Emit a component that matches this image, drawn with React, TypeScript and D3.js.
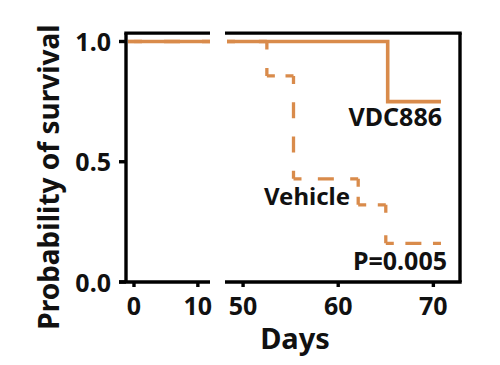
import * as d3 from "d3";

// Kaplan-Meier steps
const vehicleDays = [0, 52.5, 55.3, 62.1, 65.0, 70.8];
const vehicleSurv = [1, 0.857, 0.429, 0.321, 0.161, 0.161];
const vdcDays = [0, 65.2, 70.8];
const vdcSurv = [1, 0.75, 0.75];

const leftTicks = [0, 10];
const rightTicks = [50, 60, 70];
const yTicks = [0, 0.5, 1.0];

const W = 500;
const H = 365;
const ORANGE = "#d98b4b";
const FONT = "'Noto Sans', 'Open Sans', sans-serif";
const LINE_W = 3.6;

const xL = d3.scaleLinear().domain([-1.25, 11.9]).range([126, 210]);
const xR = d3.scaleLinear().domain([48.1, 72.8]).range([225, 460]);
const y = d3.scaleLinear().domain([0, 1]).range([282, 41.5]);
const yTop = y(1.035);

type Pt = [number, number];

// step points of a curve restricted to one axis segment, in pixels
function stepPoints(days: number[], surv: number[], x: d3.ScaleLinear<number, number>): Pt[] {
  const [d0, d1] = x.domain();
  let v = surv[0];
  days.forEach((d, i) => { if (d <= d0) v = surv[i]; });
  const pts: Pt[] = [[x(d0) + 2, y(v)]];
  days.forEach((d, i) => {
    if (d > d0 && d <= d1) {
      pts.push([x(d), y(v)]);
      v = surv[i];
      pts.push([x(d), y(v)]);
    }
  });
  if (days[days.length - 1] > d1) {
    pts.push([x(d1), y(v)]);
  }
  // drop zero-length pieces
  return pts.filter((p, i) => i === 0 || p[0] !== pts[i - 1][0] || p[1] !== pts[i - 1][1]);
}

// dashed piece with half dashes at both corners (GraphPad style)
function dashFor(len: number) {
  const dash = 16;
  const k = Math.max(1, Math.round(len / 34));
  const gap = Math.max(2, (len - k * dash) / k);
  return { dasharray: `${dash} ${gap}`, offset: dash / 2 };
}

function Curve({ days, surv, dashed }: { days: number[]; surv: number[]; dashed: boolean }) {
  const segs = [xL, xR].map((x) => stepPoints(days, surv, x));
  return (
    <g>
      {segs.map((pts, si) => {
        if (!dashed) {
          const line = d3.line<Pt>();
          return <path key={si} d={line(pts) ?? ""} fill="none" stroke={ORANGE} strokeWidth={LINE_W} />;
        }
        return pts.slice(1).map((p, i) => {
          const a = pts[i];
          const len = Math.hypot(p[0] - a[0], p[1] - a[1]);
          const { dasharray, offset } = dashFor(len);
          return (
            <line key={`${si}-${i}`} x1={a[0]} y1={a[1]} x2={p[0]} y2={p[1]}
              stroke={ORANGE} strokeWidth={LINE_W - 0.3} strokeDasharray={dasharray} strokeDashoffset={offset} />
          );
        });
      })}
    </g>
  );
}

export default function App() {
  const axisColor = "#000";
  return (
    <svg width={W} height={H} style={{ position: "absolute", left: 0, top: 0, background: "#fff" }}
      fontFamily={FONT} fontWeight="bold">
      {/* curves */}
      <Curve days={vehicleDays} surv={vehicleSurv} dashed={true} />
      <Curve days={vdcDays} surv={vdcSurv} dashed={false} />

      {/* frame */}
      <g stroke={axisColor} strokeWidth={3.4} fill="none">
        <line x1={xL.range()[0]} y1={yTop} x2={xL.range()[0]} y2={y(0)} />
        <line x1={xL.range()[0] - 7} y1={y(0)} x2={xL.range()[1]} y2={y(0)} />
        <line x1={xR.range()[0]} y1={y(0)} x2={xR.range()[1] + 1.7} y2={y(0)} />
        <line x1={xL.range()[0] - 1.7} y1={yTop} x2={xL.range()[1]} y2={yTop} />
        <line x1={xR.range()[0]} y1={yTop} x2={xR.range()[1] + 1.7} y2={yTop} />
        <line x1={xR.range()[1]} y1={yTop} x2={xR.range()[1]} y2={y(0)} />
        {yTicks.map((t) => (
          <line key={t} x1={xL.range()[0] - 7} x2={xL.range()[0]} y1={y(t)} y2={y(t)} />
        ))}
        {leftTicks.map((t) => (
          <line key={`l${t}`} x1={xL(t)} x2={xL(t)} y1={y(0)} y2={y(0) + 5} />
        ))}
        {rightTicks.map((t) => (
          <line key={`r${t}`} x1={xR(t)} x2={xR(t)} y1={y(0)} y2={y(0) + 5} />
        ))}
      </g>

      {/* tick labels */}
      <g fontSize={25} fill="#111">
        {yTicks.map((t) => (
          <text key={t} x={xL.range()[0] - 15} y={y(t)} dy="0.38em" textAnchor="end">
            {d3.format(".1f")(t)}
          </text>
        ))}
        {leftTicks.map((t) => (
          <text key={`l${t}`} x={xL(t)} y={315} textAnchor="middle">{t}</text>
        ))}
        {rightTicks.map((t) => (
          <text key={`r${t}`} x={xR(t)} y={315} textAnchor="middle">{t}</text>
        ))}
      </g>

      {/* annotations */}
      <g fill="#111">
        <text x={442} y={126} fontSize={25} textAnchor="end">VDC886</text>
        <text x={307} y={205} fontSize={24} textAnchor="middle">Vehicle</text>
        <text x={447} y={270} fontSize={25} textAnchor="end">P=0.005</text>
        <text x={295} y={349} fontSize={29} textAnchor="middle">Days</text>
        <text transform="translate(59,177) rotate(-90)" fontSize={28} textAnchor="middle">
          Probability of survival
        </text>
      </g>
    </svg>
  );
}
